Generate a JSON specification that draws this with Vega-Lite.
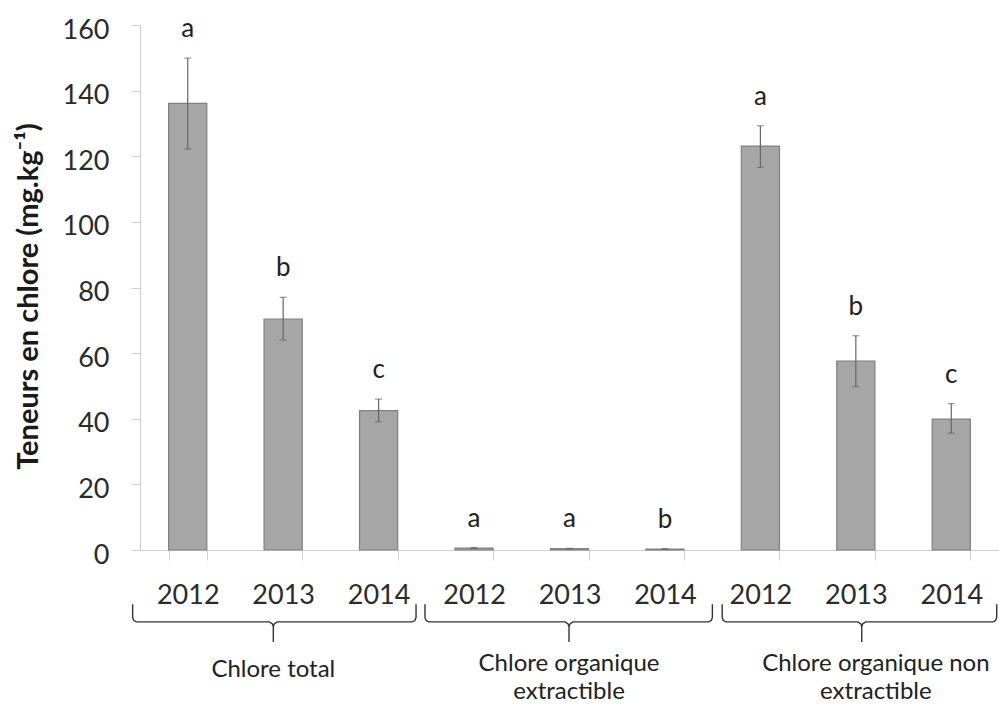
{
  "$schema": "https://vega.github.io/schema/vega-lite/v6.json",
  "autosize": {"type": "none"},
  "padding": {"left": 140, "top": 25, "right": 0, "bottom": 154},
  "width": 859,
  "height": 525,
  "background": "white",
  "config": {
    "view": {"stroke": null},
    "font": "Lato",
    "axis": {"labelFont": "Lato", "titleFont": "Lato", "labelColor": "#2b2b2b", "titleColor": "#1a1a1a"},
    "axisY": {
      "titleFontSize": 29, "titleFontWeight": "bold", "titlePadding": 19, "titleY": 271,
      "grid": false, "labelFontSize": 27, "labelPadding": 22, "labelOffset": 5,
      "tickSize": 9, "tickColor": "#d0d0d0", "domainColor": "#d0d0d0", "domainWidth": 1.2
    }
  },
  "datasets": {
    "bars": [
      {"key": "1-2012", "year": "2012", "mean": 136.1, "lo": 122.2, "hi": 149.9, "letter": "a"},
      {"key": "1-2013", "year": "2013", "mean": 70.4, "lo": 64.0, "hi": 77.0, "letter": "b"},
      {"key": "1-2014", "year": "2014", "mean": 42.5, "lo": 39.1, "hi": 46.0, "letter": "c"},
      {"key": "2-2012", "year": "2012", "mean": 0.6, "lo": 0.45, "hi": 0.75, "letter": "a"},
      {"key": "2-2013", "year": "2013", "mean": 0.4, "lo": 0.3, "hi": 0.5, "letter": "a"},
      {"key": "2-2014", "year": "2014", "mean": 0.3, "lo": 0.22, "hi": 0.38, "letter": "b"},
      {"key": "3-2012", "year": "2012", "mean": 123.1, "lo": 116.6, "hi": 129.3, "letter": "a"},
      {"key": "3-2013", "year": "2013", "mean": 57.6, "lo": 49.8, "hi": 65.3, "letter": "b"},
      {"key": "3-2014", "year": "2014", "mean": 39.9, "lo": 35.6, "hi": 44.6, "letter": "c"}
    ],
    "braces": [
      {"brace": 1, "ord": 1, "bx": -0.077, "by": -16.5},
      {"brace": 1, "ord": 2, "bx": -0.077, "by": -20.6},
      {"brace": 1, "ord": 3, "bx": -0.065, "by": -21.5},
      {"brace": 1, "ord": 4, "bx": -0.037, "by": -21.9},
      {"brace": 1, "ord": 5, "bx": 1.357, "by": -21.9},
      {"brace": 1, "ord": 6, "bx": 1.387, "by": -22.5},
      {"brace": 1, "ord": 7, "bx": 1.397, "by": -23.4},
      {"brace": 1, "ord": 8, "bx": 1.397, "by": -28},
      {"brace": 1, "ord": 9, "bx": 1.397, "by": -23.4},
      {"brace": 1, "ord": 10, "bx": 1.407, "by": -22.5},
      {"brace": 1, "ord": 11, "bx": 1.437, "by": -21.9},
      {"brace": 1, "ord": 12, "bx": 2.852, "by": -21.9},
      {"brace": 1, "ord": 13, "bx": 2.88, "by": -21.5},
      {"brace": 1, "ord": 14, "bx": 2.892, "by": -20.6},
      {"brace": 1, "ord": 15, "bx": 2.892, "by": -16.5},
      {"brace": 2, "ord": 1, "bx": 2.986, "by": -16.5},
      {"brace": 2, "ord": 2, "bx": 2.986, "by": -20.6},
      {"brace": 2, "ord": 3, "bx": 2.998, "by": -21.5},
      {"brace": 2, "ord": 4, "bx": 3.026, "by": -21.9},
      {"brace": 2, "ord": 5, "bx": 4.455, "by": -21.9},
      {"brace": 2, "ord": 6, "bx": 4.485, "by": -22.5},
      {"brace": 2, "ord": 7, "bx": 4.495, "by": -23.4},
      {"brace": 2, "ord": 8, "bx": 4.495, "by": -28},
      {"brace": 2, "ord": 9, "bx": 4.495, "by": -23.4},
      {"brace": 2, "ord": 10, "bx": 4.505, "by": -22.5},
      {"brace": 2, "ord": 11, "bx": 4.535, "by": -21.9},
      {"brace": 2, "ord": 12, "bx": 5.957, "by": -21.9},
      {"brace": 2, "ord": 13, "bx": 5.985, "by": -21.5},
      {"brace": 2, "ord": 14, "bx": 5.997, "by": -20.6},
      {"brace": 2, "ord": 15, "bx": 5.997, "by": -16.5},
      {"brace": 3, "ord": 1, "bx": 6.1, "by": -16.5},
      {"brace": 3, "ord": 2, "bx": 6.1, "by": -20.6},
      {"brace": 3, "ord": 3, "bx": 6.112, "by": -21.5},
      {"brace": 3, "ord": 4, "bx": 6.14, "by": -21.9},
      {"brace": 3, "ord": 5, "bx": 7.522, "by": -21.9},
      {"brace": 3, "ord": 6, "bx": 7.552, "by": -22.5},
      {"brace": 3, "ord": 7, "bx": 7.562, "by": -23.4},
      {"brace": 3, "ord": 8, "bx": 7.562, "by": -28},
      {"brace": 3, "ord": 9, "bx": 7.562, "by": -23.4},
      {"brace": 3, "ord": 10, "bx": 7.572, "by": -22.5},
      {"brace": 3, "ord": 11, "bx": 7.602, "by": -21.9},
      {"brace": 3, "ord": 12, "bx": 8.936, "by": -21.9},
      {"brace": 3, "ord": 13, "bx": 8.964, "by": -21.5},
      {"brace": 3, "ord": 14, "bx": 8.976, "by": -20.6},
      {"brace": 3, "ord": 15, "bx": 8.976, "by": -16.5}
    ],
    "groups": [
      {"label": "Chlore total", "gx": 1.397, "gy": -38.7},
      {"label": "Chlore organique\nextractible", "gx": 4.495, "gy": -37.0},
      {"label": "Chlore organique non\nextractible", "gx": 7.71, "gy": -37.0}
    ]
  },
  "layer": [
    {
      "data": {"name": "bars"},
      "encoding": {
        "x": {
          "field": "key", "type": "nominal", "sort": null,
          "scale": {"paddingInner": 0.6, "paddingOuter": 0.3},
          "axis": {
            "title": null, "labelExpr": "substring(datum.label, 2)", "labelAngle": 0,
            "labelFontSize": 27, "labelPadding": 22, "tickBand": "extent",
            "tickSize": 10, "tickColor": "#d0d0d0", "domainColor": "#d0d0d0", "domainWidth": 1.2
          }
        }
      },
      "layer": [
        {
          "mark": {"type": "bar", "fill": "#a6a6a6", "stroke": "#808080", "strokeWidth": 1.2},
          "encoding": {
            "y": {
              "field": "mean", "type": "quantitative",
              "scale": {"domain": [0, 160], "nice": false},
              "axis": {"title": "Teneurs en chlore (mg.kg⁻¹)", "values": [0, 20, 40, 60, 80, 100, 120, 140, 160]}
            }
          }
        },
        {
          "mark": {"type": "rule", "color": "#666666", "strokeWidth": 1.2},
          "encoding": {
            "y": {"field": "lo", "type": "quantitative"},
            "y2": {"field": "hi"}
          }
        },
        {
          "mark": {"type": "tick", "color": "#666666", "thickness": 1.2, "size": 7},
          "encoding": {
            "y": {"field": "lo", "type": "quantitative"}
          }
        },
        {
          "mark": {"type": "tick", "color": "#666666", "thickness": 1.2, "size": 7},
          "encoding": {
            "y": {"field": "hi", "type": "quantitative"}
          }
        },
        {
          "mark": {"type": "text", "font": "Lato", "fontSize": 26, "color": "#222222", "baseline": "alphabetic", "dy": -21},
          "encoding": {
            "y": {"field": "hi", "type": "quantitative"},
            "text": {"field": "letter"}
          }
        }
      ]
    },
    {
      "layer": [
        {
          "data": {"name": "braces"},
          "mark": {"type": "line", "color": "#333333", "strokeWidth": 1.4, "interpolate": "linear"},
          "encoding": {
            "x": {"field": "bx", "type": "quantitative", "scale": {"domain": [0, 9], "nice": false, "zero": false}, "axis": null},
            "y": {"field": "by", "type": "quantitative"},
            "detail": {"field": "brace"},
            "order": {"field": "ord"}
          }
        },
        {
          "data": {"name": "groups"},
          "mark": {"type": "text", "font": "Lato", "fontSize": 24, "color": "#222222", "baseline": "alphabetic", "align": "center", "lineBreak": "\n", "lineHeight": 28},
          "encoding": {
            "x": {"field": "gx", "type": "quantitative", "scale": {"domain": [0, 9], "nice": false, "zero": false}, "axis": null},
            "y": {"field": "gy", "type": "quantitative"},
            "text": {"field": "label"}
          }
        }
      ]
    }
  ],
  "resolve": {"scale": {"x": "independent"}}
}
